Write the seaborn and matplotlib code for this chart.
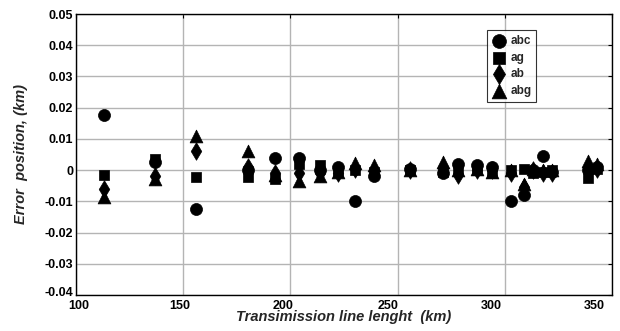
import matplotlib
matplotlib.use("Agg")
import matplotlib.pyplot as plt
import matplotlib.transforms as mtransforms
import seaborn as sns
import pandas as pd

line_length = [113, 137, 156, 180, 193, 204, 214, 222, 230, 239, 256,
               271, 278, 287, 294, 303, 309, 313, 318, 322, 339, 343]
abc = [0.0175, 0.0025, -0.0125, 0.0, 0.004, 0.004, 0.0, 0.001, -0.0100, -0.002, 0.0005,
       -0.001, 0.002, 0.0015, 0.001, -0.0098, -0.008, 0.0, 0.0045, -0.0005, 0.0, 0.001]
ag = [-0.0015, 0.0035, -0.0022, -0.0022, -0.003, 0.002, 0.0015, -0.0005, 0.0, -0.0005, 0.0,
      -0.0005, 0.0, 0.0, -0.001, 0.0, 0.0005, -0.001, -0.0005, 0.0, -0.0025, 0.0005]
ab = [-0.006, -0.002, 0.0062, 0.001, -0.001, -0.001, -0.001, -0.001, 0.0005, 0.0, 0.0,
      0.001, -0.0015, 0.0, 0.0, -0.001, -0.0055, 0.0, -0.0008, -0.001, 0.001, 0.0005]
abg = [-0.0085, -0.003, 0.011, 0.0062, -0.0015, -0.0035, -0.002, -0.0005, 0.0022, 0.0015, 0.0,
       0.0025, 0.0, 0.0005, -0.0005, 0.0, -0.0045, 0.0005, 0.0, 0.0, 0.003, 0.002]
series_names = ["abc", "ag", "ab", "abg"]
x_ticks = [100, 150, 200, 250, 300, 350]
y_ticks = [-0.04, -0.03, -0.02, -0.01, 0, 0.01, 0.02, 0.03, 0.04, 0.05]
y_tick_labels = ["-0.04", "-0.03", "-0.02", "-0.01", "0", "0.01", "0.02", "0.03", "0.04", "0.05"]

rows = []
for name, vals in zip(series_names, [abc, ag, ab, abg]):
    for xv, yv in zip(line_length, vals):
        rows.append({"x": xv, "y": yv, "fault": name})
df = pd.DataFrame(rows)

sns.set_style("white")
plt.rcParams['font.family'] = ['Liberation Sans', 'DejaVu Sans']

fig = plt.figure(figsize=(6.2, 3.31), dpi=100)
ax = fig.add_axes([0.1226, 0.1088, 0.8645, 0.8489])

ax.grid(True, color="#b4b4b4", linewidth=1.0)
ax.set_axisbelow(True)

markers = {"abc": "o", "ag": "s", "ab": "d", "abg": "^"}
sizes_map = {"abc": 75, "ag": 50, "ab": 80, "abg": 85}
for name in series_names:
    sub = df[df["fault"] == name]
    sns.scatterplot(data=sub, x="x", y="y", marker=markers[name], s=sizes_map[name],
                    color="black", edgecolor="black", linewidth=0.5, ax=ax, label=name,
                    zorder=3)

ax.set_xlim(100, 350)
ax.set_ylim(-0.04, 0.05)
ax.set_xticks(x_ticks)
ax.set_xticklabels([str(t) for t in x_ticks], fontsize=9, fontweight="bold")
ax.set_yticks(y_ticks)
ax.set_yticklabels(y_tick_labels, fontsize=9, fontweight="bold")
ax.tick_params(direction="in", length=3, width=0.8, top=True, right=True, pad=2,
               colors="black")
# reference x tick labels drift progressively left of their ticks
x_shift_px = [3, -3, -7, -10, -14, -18]
for lbl, dx in zip(ax.get_xticklabels(), x_shift_px):
    off = mtransforms.ScaledTranslation(dx / 100, -2 / 100, fig.dpi_scale_trans)
    lbl.set_transform(lbl.get_transform() + off)
# lowest y label sits slightly above its tick
ylbls = ax.get_yticklabels()
ylbls[0].set_transform(ylbls[0].get_transform() +
                       mtransforms.ScaledTranslation(0, 3 / 100, fig.dpi_scale_trans))
for sp in ax.spines.values():
    sp.set_color("black")
    sp.set_linewidth(1.0)

ax.set_xlabel("Transimission line lenght  (km)", fontsize=10.5, fontweight="bold",
              fontstyle="italic", labelpad=-1)
ax.set_ylabel("Error  position, (km)", fontsize=10.5, fontweight="bold",
              fontstyle="italic", labelpad=12)

leg = ax.legend(loc="upper left", bbox_to_anchor=(0.766, 0.942), fontsize=8.5,
                frameon=True, fancybox=False, borderpad=0.4, labelspacing=0.4,
                handletextpad=0.3, handlelength=1.3, borderaxespad=0, markerscale=1.15)
leg.get_frame().set_edgecolor("black")
leg.get_frame().set_linewidth(0.8)
for t in leg.get_texts():
    t.set_fontweight("bold")

fig.savefig("out.png", dpi=100)
